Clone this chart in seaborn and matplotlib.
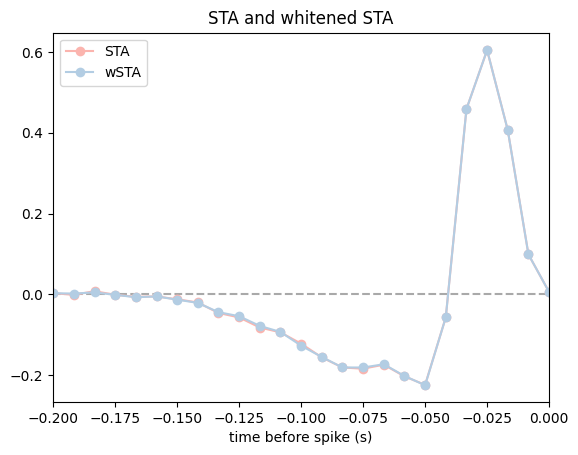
import numpy as np
import pandas as pd
import seaborn as sns
import matplotlib
matplotlib.use("Agg")
import matplotlib.pyplot as plt

# time lags before spike (s)
t = [-0.2, -0.19167, -0.18333, -0.175, -0.16667, -0.15833, -0.15, -0.14167,
     -0.13333, -0.125, -0.11667, -0.10833, -0.1, -0.09167, -0.08333, -0.075,
     -0.06667, -0.05833, -0.05, -0.04167, -0.03333, -0.025, -0.01667, -0.00833, 0.0]

sta = [0.003, -0.001, 0.008, -0.001, -0.006, -0.005, -0.012, -0.020,
       -0.046, -0.057, -0.082, -0.094, -0.122, -0.156, -0.181, -0.184,
       -0.174, -0.203, -0.224, -0.057, 0.459, 0.605, 0.407, 0.099, 0.006]

wsta = [0.003, 0.002, 0.005, -0.001, -0.007, -0.005, -0.013, -0.021,
        -0.044, -0.054, -0.078, -0.093, -0.127, -0.155, -0.181, -0.181,
        -0.173, -0.202, -0.225, -0.057, 0.459, 0.605, 0.407, 0.099, 0.006]

df = pd.DataFrame({
    "time": t + t,
    "value": sta + wsta,
    "kind": ["STA"] * len(t) + ["wSTA"] * len(t),
})

fig, ax = plt.subplots(figsize=(5.78, 4.55), dpi=100)
fig.subplots_adjust(left=0.092, right=0.950, top=0.928, bottom=0.116)

ax.axhline(0, color="darkgray", ls="--", lw=1.5, zorder=0)
sns.lineplot(data=df, x="time", y="value", hue="kind",
             palette=sns.color_palette("Pastel1", 2), marker="o",
             markersize=7, markeredgewidth=0, lw=1.5, ax=ax)

ax.set_xlim(-0.2, 0.0)
ax.set_ylim(-0.267, 0.648)
ax.set_title("STA and whitened STA")
ax.set_xlabel("time before spike (s)")
ax.set_ylabel("")
ax.legend(loc="upper left")

plt.savefig("out.png", dpi=100)
